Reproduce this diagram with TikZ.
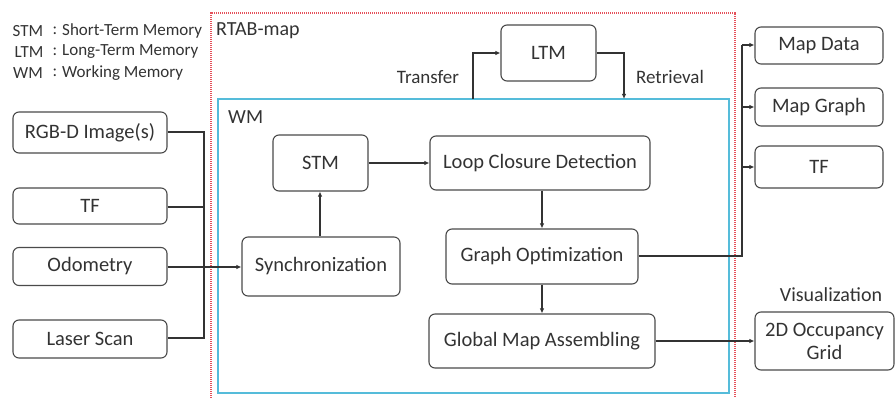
\documentclass[tikz,border=0pt]{standalone}
\usepackage{fontspec}
\setmainfont{Carlito}
\usetikzlibrary{arrows.meta}
\definecolor{ink}{HTML}{333333}
\definecolor{edge}{HTML}{4A4A4A}
\definecolor{wmblue}{HTML}{55BCDA}
\definecolor{rtabred}{HTML}{E5505A}
\tikzset{
  blk/.style={draw=edge, line width=1.1pt, rounded corners=6pt, text=ink,
    font=\fontsize{20.5}{23}\selectfont, inner sep=0pt, align=center},
  link/.style={draw=ink, line width=1.1pt},
  arr/.style={link, -{Latex[length=5pt,width=4.5pt]}},
  lbl/.style={text=ink, inner sep=0pt, font=\fontsize{20}{22}\selectfont},
  flow/.style={text=ink, inner sep=0pt, font=\fontsize{19}{21}\selectfont},
  legend/.style={text=ink, inner sep=0pt, font=\fontsize{17}{19}\selectfont},
}
\begin{document}
\begin{tikzpicture}[x=1pt,y=-1pt]
\useasboundingbox (0,0) rectangle (896,398);

% legend
\node[legend] (lgs) at (28,31) {STM};
\node[legend] (lgl) at (29,52) {LTM};
\node[legend] (lgw) at (28,73) {WM};
\node[legend] (cs) at (55,31) {:};
\node[legend] (cl) at (55,52) {:};
\node[legend] (cw) at (55,73) {:};
\node[legend, anchor=west] (ds) at (62,31) {Short-Term Memory};
\node[legend, anchor=west] (dl) at (62,52) {Long-Term Memory};
\node[legend, anchor=west] (dw) at (62,73) {Working Memory};

% RTAB-map frame (open at the bottom) and WM frame
\draw[rtabred, line width=1.6pt, dash pattern=on 1.2pt off 0.8pt]
  (211,402) -- (211,13) -- (735,13) -- (735,402);
\node[lbl, anchor=west] (rtab) at (216,31) {RTAB-map};
\draw[wmblue, line width=1.5pt] (218,99) rectangle (729,393);
\coordinate (wmtl) at (473,99);
\coordinate (wmtr) at (624,99);
\node[lbl, anchor=west] (wm) at (228,117) {WM};

% inputs
\node[blk, minimum width=154pt, minimum height=41pt] (rgbd) at (90,132.5) {RGB-D Image(s)};
\node[blk, minimum width=154pt, minimum height=36pt] (tfin) at (90,206) {TF};
\node[blk, minimum width=154pt, minimum height=38pt] (odom) at (90,266.5) {Odometry};
\node[blk, minimum width=154pt, minimum height=38pt] (laser) at (90,339) {Laser Scan};

% WM blocks
\node[blk, minimum width=158pt, minimum height=59pt] (sync) at (321,266.5) {Synchronization};
\node[blk, minimum width=95pt, minimum height=56pt] (stm) at (320.5,163) {STM};
\node[blk, minimum width=220pt, minimum height=54pt] (lcd) at (540,163) {Loop Closure Detection};
\node[blk, minimum width=192pt, minimum height=55pt] (go) at (542,256.5) {Graph Optimization};
\node[blk, minimum width=226pt, minimum height=54pt] (gma) at (542,341) {Global Map Assembling};
\node[blk, minimum width=95pt, minimum height=56pt] (ltm) at (548.5,53) {LTM};

% outputs
\node[blk, minimum width=128pt, minimum height=37pt] (mapdata) at (819,45.5) {Map Data};
\node[blk, minimum width=128pt, minimum height=38pt] (mapgraph) at (819,107) {Map Graph};
\node[blk, minimum width=128pt, minimum height=42pt] (tfout) at (819,167) {TF};
\node[blk, minimum width=139pt, minimum height=58pt, font=\fontsize{20.5}{23}\selectfont] (grid) at (824.5,341) {2D Occupancy\\Grid};
\node[lbl] (vis) at (831,295) {Visualization};

% input bus into synchronization
\coordinate (busl) at (204,0);
\draw[link] (rgbd.east |- 0,132) -- (busl |- 0,132) -- (busl |- 0,338) -- (laser.east |- 0,338);
\draw[link] (tfin.east |- 0,207) -- (busl |- 0,207);
\draw[arr] (odom.east |- 0,267) -- (sync.west |- 0,267);

% WM flow
\draw[arr] (sync.north -| 320,0) -- (stm.south -| 320,0);
\draw[arr] (stm.east) -- (lcd.west |- stm.east);
\draw[arr] (lcd.south -| 542,0) -- (go.north -| 542,0);
\draw[arr] (go.south -| 542,0) -- (gma.north -| 542,0);

% memory transfer / retrieval
\draw[arr] (wmtl) -- (473,53) -- (ltm.west |- 0,53);
\draw[arr] (ltm.east |- 0,53) -- (624,53) -- (wmtr);
\node[flow] (transfer) at (428,77) {Transfer};
\node[flow] (retrieval) at (670,77) {Retrieval};

% output bus
\coordinate (busr) at (742,0);
\draw[link] (go.east |- 0,256) -- (busr |- 0,256) -- (busr |- 0,45);
\draw[arr] (busr |- 0,45) -- (mapdata.west |- 0,45);
\draw[arr] (busr |- 0,107) -- (mapgraph.west |- 0,107);
\draw[arr] (busr |- 0,167) -- (tfout.west |- 0,167);
\draw[arr] (gma.east |- 0,341) -- (grid.west |- 0,341);
\end{tikzpicture}
\end{document}
